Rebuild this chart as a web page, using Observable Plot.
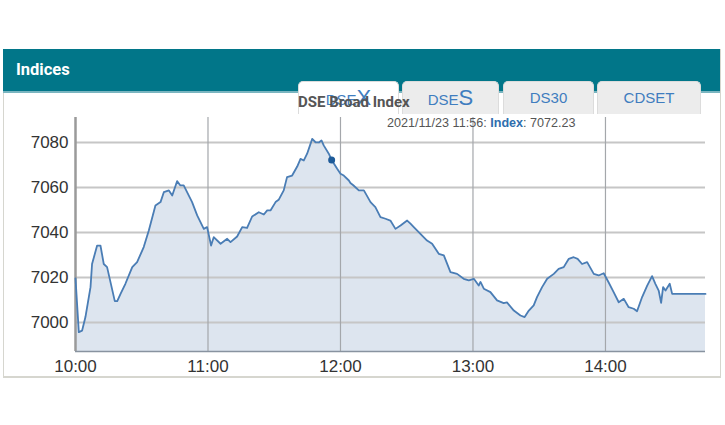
<!DOCTYPE html>
<html>
<head>
<meta charset="utf-8">
<script src="https://cdn.jsdelivr.net/npm/d3@7"></script>
<script src="https://cdn.jsdelivr.net/npm/@observablehq/plot@0.6"></script>
<style>
  html, body { margin: 0; padding: 0; background: #fff; }
  body { width: 725px; height: 425px; position: relative; overflow: hidden; font-family: "Liberation Sans", Arial, sans-serif; }
  #frame { position: absolute; left: 3px; top: 49px; width: 716px; height: 327px; border: 1px solid #d6d6cf; border-top: none; border-bottom-width: 2px; }
  #header { position: absolute; left: 3px; top: 49px; width: 717px; height: 42px; background: #017689; border-bottom: 2px solid #7ab5c0; }
  #header span { position: absolute; left: 13px; top: 11px; color: #fff; font: bold 16.5px Roboto, sans-serif; }
  .tab { position: absolute; top: 81px; height: 33px; background: #ececec; border: 1px solid #dcdcdc; border-bottom: none; border-radius: 5px 5px 0 0; box-sizing: border-box; color: #3f7dbf; font: 15px "Liberation Sans", Arial, sans-serif; text-align: center; line-height: 31px; }
  .tab.active { background: #fff; }
  .big { font-size: 22px; }
  #broad { position: absolute; left: 298px; top: 93px; font: bold 15px Roboto, sans-serif; color: #555; white-space: nowrap; }
  #tip { position: absolute; left: 387px; top: 116px; font: 12.6px "Liberation Sans", Arial, sans-serif; color: #555; white-space: nowrap; z-index: 5; }
  #tip b { color: #2f6eae; }
  #chart { position: absolute; left: 3px; top: 116px; }
</style>
</head>
<body>
<div id="frame"></div>
<div id="header"><span>Indices</span></div>
<div class="tab active" style="left:298px;width:101px;">DSE<span class="big">X</span></div>
<div class="tab" style="left:402px;width:97px;">DSE<span class="big">S</span></div>
<div class="tab" style="left:503px;width:91px;">DS30</div>
<div class="tab" style="left:597px;width:104px;">CDSET</div>
<div id="broad">DSE Broad Index</div>
<div id="chart"></div>
<div id="tip">2021/11/23 11:56: <b>Index</b>: 7072.23</div>
<script>
// minutes since 10:00
const minutes = [0, 1.5, 3, 4.5, 6.8, 7.5, 9.8, 11.3, 12.8, 14.3, 17.8, 18.9, 20.4, 22.6, 25.7, 27.9, 30.9, 33.2, 36.2, 38.5,
  40, 42.3, 43.8, 46, 47.5, 49, 52.8, 55.1, 58.1, 59.6, 61.4, 62.6, 65.7, 68.7, 70.2, 73.2, 75.5, 77.7, 80, 83,
  85.3, 86.8, 88.3, 90.6, 92, 94.3, 95.8, 98.1, 100.4, 101.9, 103.4, 104.9, 107.2, 108.7, 110.2, 111.4, 112.4, 114.7, 116, 118.5,
  120, 121.5, 123.8, 124.5, 125.8, 128.3, 130.6, 133.6, 135.8, 138.1, 140.4, 142.6, 144.9, 147.2, 150.2, 151.7, 153.2, 156.2, 159.2, 161.5,
  164.5, 166.8, 169.8, 172.8, 175.8, 178.1, 180.4, 182.6, 183.4, 184.9, 187.9, 190.9, 193.9, 195.4, 198.5, 201.5, 203.4, 205.3, 207.5, 209,
  211.3, 213.6, 216.6, 218.8, 221.1, 223.4, 225.6, 227.4, 229.4, 231.7, 234.7, 236.9, 239.2, 241.4, 243.7, 246, 248.3, 250.5, 252.8, 254.3,
  256.6, 258.9, 261.1, 262.6, 264.1, 265.2, 266.1, 267.2, 269.1, 270.2, 285.3];
const indexValues = [7019.6, 6995.7, 6996.4, 7002.4, 7015.7, 7026, 7034.2, 7034.2, 7026, 7024.6, 7009.5, 7009.5, 7012.7, 7017.2, 7024.6, 7026.8, 7033.5, 7040.9, 7052, 7053.5,
  7057.9, 7058.7, 7056.4, 7062.8, 7060.9, 7060.9, 7053.5, 7047.6, 7041.6, 7042.4, 7034.2, 7037.9, 7035, 7037.2, 7035.7, 7038.2, 7042.4, 7042, 7047.1, 7049,
  7048, 7049.8, 7049.8, 7053.5, 7054.5, 7058.7, 7064.6, 7065.3, 7069.3, 7072.7, 7072, 7075, 7081.6, 7080.1, 7080, 7080.9, 7078.7, 7075, 7072.23, 7068.3,
  7066.1, 7065.3, 7063.1, 7062, 7061, 7058.7, 7058.7, 7053.5, 7051.3, 7046.8, 7046.1, 7045.3, 7041.6, 7043.1, 7045.3, 7043.9, 7042.4, 7039.4, 7036.4, 7035,
  7030.5, 7029.8, 7022.4, 7021.6, 7019.4, 7018.7, 7019.4, 7016.4, 7018, 7015, 7013.5, 7009.8, 7008.6, 7008.9, 7005.3, 7003.1, 7002.4, 7005.3, 7007.6, 7011.3,
  7015.7, 7019.4, 7021.6, 7023.8, 7024.6, 7028.3, 7029, 7028.3, 7026, 7026.8, 7021.6, 7020.9, 7021.9, 7017.9, 7013.5, 7009, 7010.5, 7006.8, 7006.1, 7005,
  7011.3, 7016.4, 7020.6, 7017.2, 7014.2, 7008.7, 7015.7, 7014.2, 7017.2, 7012.7, 7012.7];
const xTickMinutes = [0, 60, 120, 180, 240];
const xTickLabels = ["10:00", "11:00", "12:00", "13:00", "14:00"];
const yTicks = [7000, 7020, 7040, 7060, 7080];
const hoverPoint = [{t: 116, v: 7072.23}];
const xDomain = [0, 285.3];
const yDomain = [6987.1, 7091.1];

const data = minutes.map((t, i) => ({t, v: indexValues[i]}));

const chart = Plot.plot({
  width: 719,
  height: 260,
  marginLeft: 72,
  marginRight: 17,
  marginTop: 1,
  marginBottom: 25,
  style: {fontFamily: "'Liberation Sans', Arial, sans-serif", fontSize: "17px", color: "#333", background: "transparent"},
  x: {domain: xDomain},
  y: {domain: yDomain},
  marks: [
    Plot.areaY(data, {x: "t", y: "v", fill: "#dde5ef", clip: true}),
    Plot.ruleY(yTicks, {stroke: "#c6c6c6", strokeWidth: 1.8}),
    Plot.ruleX(xTickMinutes.slice(1), {stroke: "#a4a7ab", strokeWidth: 1.2}),
    Plot.ruleX([xDomain[0]], {stroke: "#9a9a9a", strokeWidth: 2.5}),
    Plot.ruleY([yDomain[0]], {stroke: "#8893a0", strokeWidth: 1.5}),
    Plot.lineY(data, {x: "t", y: "v", stroke: "#4a7db5", strokeWidth: 1.8}),
    Plot.dot(hoverPoint, {x: "t", y: "v", r: 3.5, fill: "#1e5b99"}),
    Plot.axisX({ticks: xTickMinutes, tickFormat: d => xTickLabels[xTickMinutes.indexOf(d)], tickSize: 0, tickPadding: 8, fontSize: 17, fill: "#333", label: null}),
    Plot.axisY({ticks: yTicks, tickFormat: d3.format("d"), tickSize: 0, tickPadding: 7, fontSize: 17, fill: "#333", label: null})
  ]
});
document.getElementById("chart").appendChild(chart);
</script>
</body>
</html>
